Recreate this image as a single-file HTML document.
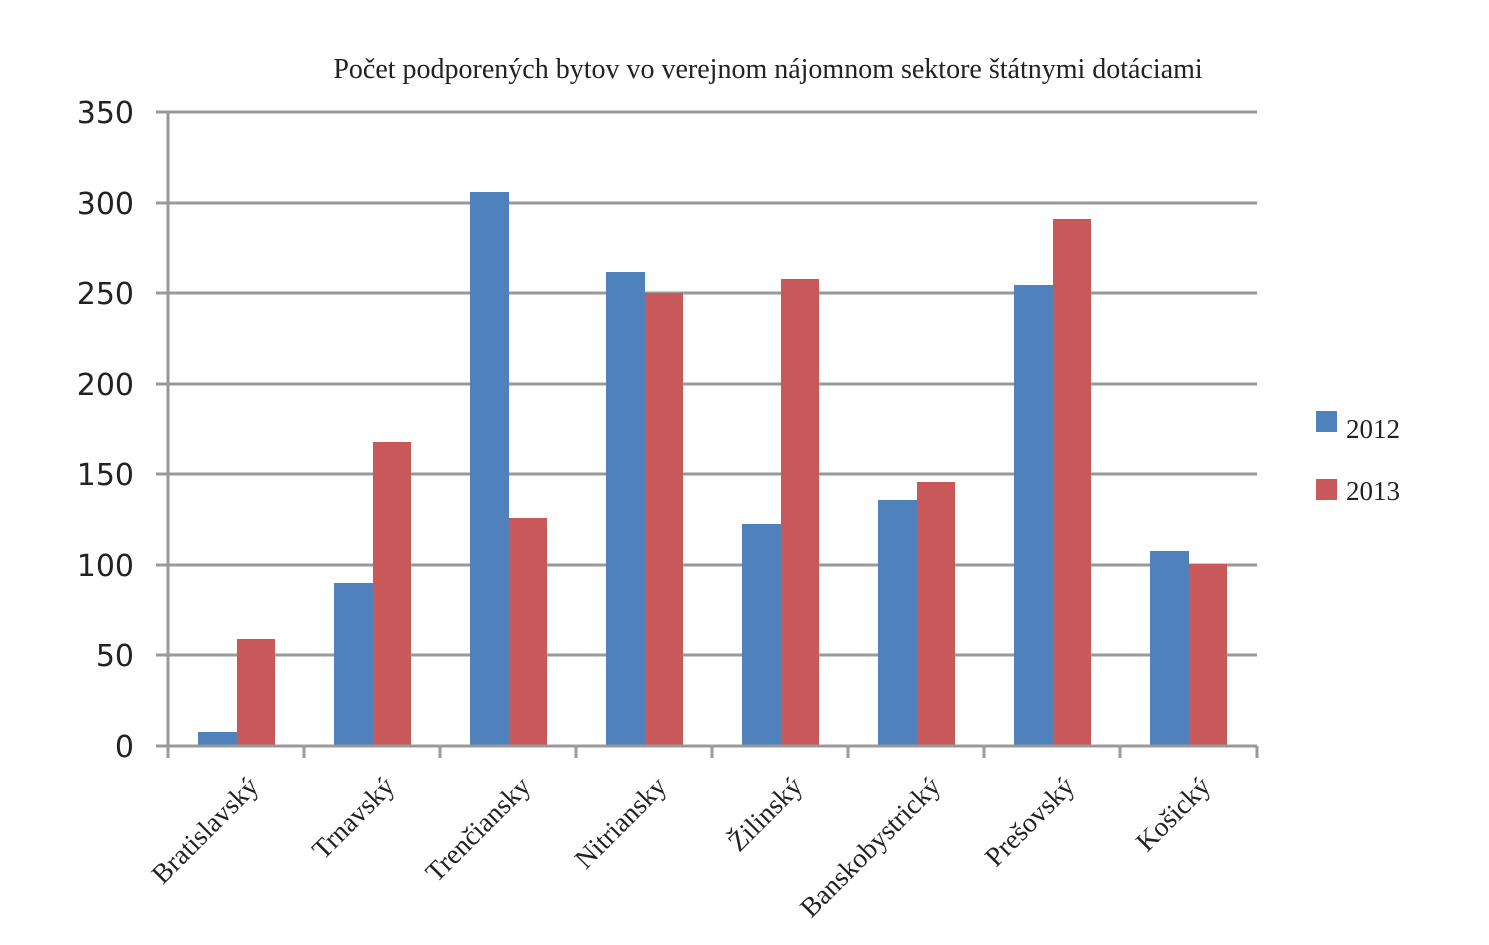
<!DOCTYPE html>
<html><head><meta charset="utf-8"><style>body{margin:0;background:#fff}</style></head><body>
<svg width="1489" height="940" xmlns="http://www.w3.org/2000/svg">
<rect width="1489" height="940" fill="#fff"/>
<text x="768" y="78" font-family="Liberation Serif, serif" font-size="28" text-anchor="middle" fill="#222">Počet podporených bytov vo verejnom nájomnom sektore štátnymi dotáciami</text>
<g stroke="#999" stroke-width="3">
<line x1="156" y1="112" x2="1257" y2="112"/>
<line x1="156" y1="203" x2="1257" y2="203"/>
<line x1="156" y1="293" x2="1257" y2="293"/>
<line x1="156" y1="384" x2="1257" y2="384"/>
<line x1="156" y1="474" x2="1257" y2="474"/>
<line x1="156" y1="565" x2="1257" y2="565"/>
<line x1="156" y1="655" x2="1257" y2="655"/>
</g>
<g font-family="DejaVu Sans, sans-serif" font-size="30" fill="#222" text-anchor="end">
<text x="134" y="123">350</text><text x="134" y="214">300</text><text x="134" y="304">250</text><text x="134" y="395">200</text><text x="134" y="485">150</text><text x="134" y="576">100</text><text x="134" y="666">50</text><text x="134" y="757">0</text>
</g>
<g>
<rect x="198" y="732" width="39" height="14" fill="#4f81bd"/><rect x="237" y="639" width="38" height="107" fill="#c9585a"/>
<rect x="334" y="583" width="39" height="163" fill="#4f81bd"/><rect x="373" y="442" width="38" height="304" fill="#c9585a"/>
<rect x="470" y="192" width="39" height="554" fill="#4f81bd"/><rect x="509" y="518" width="38" height="228" fill="#c9585a"/>
<rect x="606" y="272" width="39" height="474" fill="#4f81bd"/><rect x="645" y="293" width="38" height="453" fill="#c9585a"/>
<rect x="742" y="524" width="39" height="222" fill="#4f81bd"/><rect x="781" y="279" width="38" height="467" fill="#c9585a"/>
<rect x="878" y="500" width="39" height="246" fill="#4f81bd"/><rect x="917" y="482" width="38" height="264" fill="#c9585a"/>
<rect x="1014" y="285" width="39" height="461" fill="#4f81bd"/><rect x="1053" y="219" width="38" height="527" fill="#c9585a"/>
<rect x="1150" y="551" width="39" height="195" fill="#4f81bd"/><rect x="1189" y="564" width="38" height="182" fill="#c9585a"/>
</g>
<g stroke="#999" stroke-width="3">
<line x1="168" y1="112" x2="168" y2="758"/>
<line x1="156" y1="746" x2="1257" y2="746"/>
<line x1="304" y1="746" x2="304" y2="758"/><line x1="440" y1="746" x2="440" y2="758"/><line x1="576" y1="746" x2="576" y2="758"/><line x1="712" y1="746" x2="712" y2="758"/><line x1="848" y1="746" x2="848" y2="758"/><line x1="984" y1="746" x2="984" y2="758"/><line x1="1120" y1="746" x2="1120" y2="758"/><line x1="1257" y1="746" x2="1257" y2="758"/>
</g>
<g font-family="Liberation Serif, serif" font-size="27.5" fill="#222" text-anchor="end">
<text transform="translate(260,788) rotate(-45)">Bratislavský</text>
<text transform="translate(396,788) rotate(-45)">Trnavský</text>
<text transform="translate(532,788) rotate(-45)">Trenčiansky</text>
<text transform="translate(668,788) rotate(-45)">Nitriansky</text>
<text transform="translate(804,788) rotate(-45)">Žilinský</text>
<text transform="translate(942,788) rotate(-45)">Banskobystrický</text>
<text transform="translate(1076,788) rotate(-45)">Prešovský</text>
<text transform="translate(1212,788) rotate(-45)">Košický</text>
</g>
<rect x="1316" y="411" width="21" height="21" fill="#4f81bd"/>
<rect x="1316" y="479" width="21" height="21" fill="#c9585a"/>
<g font-family="Liberation Serif, serif" font-size="27" fill="#222">
<text x="1346" y="438">2012</text><text x="1346" y="500">2013</text>
</g>
</svg>
</body></html>
